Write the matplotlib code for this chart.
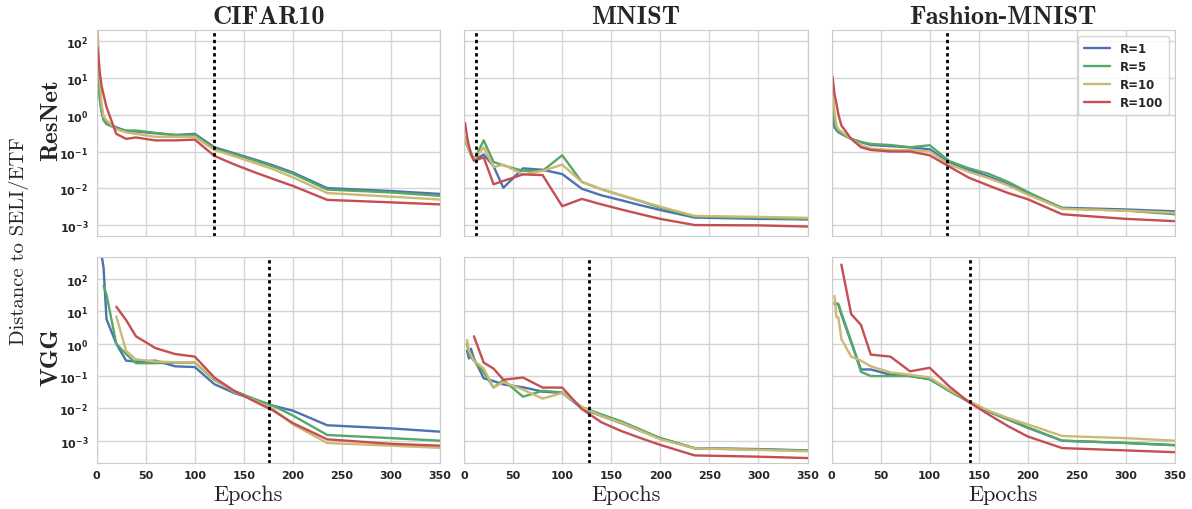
import os
import numpy as np
import matplotlib
matplotlib.use("Agg")
import matplotlib.pyplot as plt
import seaborn as sns
from matplotlib.font_manager import FontProperties
from matplotlib.ticker import FuncFormatter, LogLocator

nan = np.nan

# Epochs at which the distance was measured
epochs = [1, 3, 5, 7, 10, 20, 30, 40, 60, 80, 100, 120, 140, 160, 180, 200, 235, 300, 350]

datasets = ["CIFAR10", "MNIST", "Fashion-MNIST"]
models = ["ResNet", "VGG"]
ratios = ["R=1", "R=5", "R=10", "R=100"]

# ResNet / CIFAR10
cifar_resnet_r1 = [40, 3, 1.2, 0.8, 0.6, 0.45, 0.36, 0.35, 0.31, 0.28, 0.30, 0.13, 0.09, 0.062, 0.042, 0.027, 0.0102, 0.0085, 0.0071]
cifar_resnet_r5 = [50, 3, 1.2, 0.7, 0.55, 0.42, 0.37, 0.37, 0.32, 0.28, 0.28, 0.12, 0.085, 0.058, 0.039, 0.025, 0.0093, 0.0078, 0.0063]
cifar_resnet_r10 = [200, 10, 2.0, 0.9, 0.7, 0.4, 0.33, 0.30, 0.25, 0.25, 0.25, 0.11, 0.075, 0.05, 0.033, 0.02, 0.0075, 0.006, 0.005]
cifar_resnet_r100 = [66, 15, 6, 3.5, 1.6, 0.3, 0.22, 0.24, 0.20, 0.20, 0.21, 0.076, 0.045, 0.028, 0.018, 0.0117, 0.0049, 0.0042, 0.0037]

# ResNet / MNIST
mnist_resnet_r1 = [0.21, 0.15, 0.12, 0.09, 0.058, 0.083, 0.04, 0.0104, 0.035, 0.032, 0.0245, 0.0098, 0.0065, 0.0048, 0.0035, 0.0026, 0.00163, 0.0015, 0.00145]
mnist_resnet_r5 = [0.21, 0.15, 0.11, 0.08, 0.058, 0.2, 0.052, 0.042, 0.03, 0.03, 0.079, 0.015, 0.0095, 0.0065, 0.0045, 0.0030, 0.00175, 0.0016, 0.00147]
mnist_resnet_r10 = [0.25, 0.16, 0.12, 0.09, 0.058, 0.13, 0.038, 0.044, 0.024, 0.03, 0.044, 0.015, 0.0095, 0.0066, 0.0046, 0.0032, 0.0018, 0.0017, 0.0016]
mnist_resnet_r100 = [0.59, 0.25, 0.14, 0.09, 0.056, 0.069, 0.013, 0.016, 0.024, 0.023, 0.0033, 0.0052, 0.0037, 0.0027, 0.002, 0.0015, 0.00102, 0.001, 0.00093]

# ResNet / Fashion-MNIST
fashion_resnet_r1 = [1.5, 0.45, 0.38, 0.33, 0.3, 0.22, 0.18, 0.15, 0.14, 0.13, 0.115, 0.05, 0.032, 0.021, 0.013, 0.0075, 0.003, 0.0027, 0.0024]
fashion_resnet_r5 = [2.5, 0.6, 0.42, 0.35, 0.3, 0.22, 0.18, 0.16, 0.15, 0.13, 0.148, 0.055, 0.035, 0.025, 0.015, 0.008, 0.0029, 0.0025, 0.002]
fashion_resnet_r10 = [5.8, 1.2, 0.5, 0.4, 0.35, 0.22, 0.15, 0.12, 0.11, 0.11, 0.1, 0.045, 0.028, 0.019, 0.012, 0.0068, 0.0028, 0.0025, 0.0022]
fashion_resnet_r100 = [10.8, 3.6, 2.0, 1.0, 0.51, 0.22, 0.13, 0.11, 0.1, 0.1, 0.079, 0.039, 0.0195, 0.012, 0.0075, 0.0051, 0.002, 0.0015, 0.0013]

# VGG / CIFAR10
cifar_vgg_r1 = [2000, 1000, 550, 230, 5.8, 1.0, 0.3, 0.28, 0.3, 0.2, 0.19, 0.056, 0.03, 0.019, 0.012, 0.0085, 0.003, 0.0024, 0.0019]
cifar_vgg_r5 = [nan, nan, nan, 62, 33, 1.0, 0.48, 0.25, 0.25, 0.26, 0.26, 0.075, 0.035, 0.02, 0.012, 0.006, 0.0015, 0.0012, 0.001]
cifar_vgg_r10 = [nan, nan, nan, nan, nan, 7, 0.6, 0.33, 0.28, 0.27, 0.27, 0.08, 0.033, 0.018, 0.0095, 0.0032, 0.00085, 0.0007, 0.0006]
cifar_vgg_r100 = [nan, nan, nan, nan, nan, 14, 5.4, 1.7, 0.73, 0.48, 0.4, 0.09, 0.035, 0.017, 0.0085, 0.0035, 0.0011, 0.0008, 0.0007]

# VGG / MNIST
mnist_vgg_r1 = [nan, 0.6, 0.35, 0.7, 0.35, 0.085, 0.07, 0.055, 0.045, 0.033, 0.03, 0.01, 0.0058, 0.0035, 0.002, 0.0012, 0.00059, 0.00055, 0.0005]
mnist_vgg_r5 = [nan, 1.0, 0.45, 0.38, 0.3, 0.13, 0.044, 0.075, 0.023, 0.035, 0.031, 0.011, 0.0065, 0.004, 0.0022, 0.0012, 0.00058, 0.00053, 0.00049]
mnist_vgg_r10 = [nan, 1.3, 0.6, 0.45, 0.3, 0.17, 0.044, 0.065, 0.038, 0.02, 0.03, 0.011, 0.0058, 0.0036, 0.002, 0.0011, 0.00058, 0.00052, 0.00047]
mnist_vgg_r100 = [nan, nan, nan, nan, 1.7, 0.26, 0.17, 0.077, 0.09, 0.044, 0.044, 0.0095, 0.0037, 0.002, 0.0012, 0.00074, 0.00035, 0.00032, 0.00029]

# VGG / Fashion-MNIST
fashion_vgg_r1 = [nan, 17, 17, 16, 8, 1.1, 0.16, 0.16, 0.11, 0.1, 0.08, 0.035, 0.016, 0.008, 0.0045, 0.0025, 0.001, 0.00085, 0.00073]
fashion_vgg_r5 = [nan, 18, 18, 17, 9, 1.2, 0.135, 0.1, 0.1, 0.1, 0.08, 0.034, 0.016, 0.008, 0.0045, 0.0026, 0.001, 0.00085, 0.00072]
fashion_vgg_r10 = [nan, 30, 6.5, 6.5, 1.4, 0.4, 0.3, 0.2, 0.13, 0.11, 0.09, 0.038, 0.017, 0.0085, 0.005, 0.0032, 0.0014, 0.0012, 0.001]
fashion_vgg_r100 = [nan, nan, nan, nan, 280, 8.3, 3.8, 0.46, 0.4, 0.14, 0.18, 0.048, 0.0155, 0.0065, 0.0028, 0.00135, 0.00059, 0.0005, 0.00044]

# epoch at which the collapse threshold is reached (dotted marker)
thresholds_resnet = [120, 12, 118]
thresholds_vgg = [176, 127, 141]

curves = [
    [[cifar_resnet_r1, cifar_resnet_r5, cifar_resnet_r10, cifar_resnet_r100],
     [mnist_resnet_r1, mnist_resnet_r5, mnist_resnet_r10, mnist_resnet_r100],
     [fashion_resnet_r1, fashion_resnet_r5, fashion_resnet_r10, fashion_resnet_r100]],
    [[cifar_vgg_r1, cifar_vgg_r5, cifar_vgg_r10, cifar_vgg_r100],
     [mnist_vgg_r1, mnist_vgg_r5, mnist_vgg_r10, mnist_vgg_r100],
     [fashion_vgg_r1, fashion_vgg_r5, fashion_vgg_r10, fashion_vgg_r100]],
]
thresholds = [thresholds_resnet, thresholds_vgg]
ylims = [(5.0e-4, 195), (2.04e-4, 500)]

sns.set_style("whitegrid")
plt.rcParams["font.family"] = ["DejaVu Sans"]
plt.rcParams["mathtext.fontset"] = "dejavusans"
colors = ["#4C72B0", "#55A868", "#CCB974", "#C44E52"]

# Computer Modern faces shipped with matplotlib, for titles and labels
ttf_dir = os.path.join(matplotlib.get_data_path(), "fonts", "ttf")
cm_bold = os.path.join(ttf_dir, "cmb10.ttf")
cm_roman = os.path.join(ttf_dir, "cmr10.ttf")

fig, axes = plt.subplots(2, 3, figsize=(11.92, 5.1), dpi=100, sharex=True, sharey="row")
fig.subplots_adjust(left=0.0811, right=0.9857, top=0.9392, bottom=0.0902,
                    wspace=0.07, hspace=0.097)

exp_fmt = FuncFormatter(lambda v, p: r"$\mathbf{10^{%d}}$" % int(round(np.log10(v))))

xlabel_x = [0.44, 0.47, 0.5]
ylabel_y = [0.57, 0.52]

for i in range(2):
    for j in range(3):
        ax = axes[i, j]
        for k in range(4):
            ax.plot(epochs, curves[i][j][k], color=colors[k], lw=1.7, label=ratios[k])
        ax.axvline(thresholds[i][j], color="black", ls=(0, (1.2, 1.2)), lw=2)
        ax.set_yscale("log")
        ax.set_ylim(*ylims[i])
        ax.set_xlim(0, 350)
        ax.set_xticks(range(0, 351, 50))
        ax.yaxis.set_major_locator(LogLocator(base=10, numticks=10))
        ax.yaxis.set_minor_locator(plt.NullLocator())
        ax.yaxis.set_major_formatter(exp_fmt)
        ax.grid(True, color="#d5d5d5", lw=1.0)
        for s in ax.spines.values():
            s.set_color("#cccccc")
        ax.tick_params(axis="both", length=0, labelsize=8, colors="#262626")
        ax.tick_params(axis="x", pad=5)
        ax.tick_params(axis="y", pad=6)
        for lab in ax.get_xticklabels():
            lab.set_fontweight("bold")
        if i == 0:
            ax.set_title(datasets[j], fontproperties=FontProperties(fname=cm_bold, size=19), pad=5)
        else:
            ax.set_xlabel("Epochs", fontproperties=FontProperties(fname=cm_roman, size=16))
            ax.xaxis.set_label_coords(xlabel_x[j], -0.105)
    axes[i, 0].set_ylabel(models[i], fontproperties=FontProperties(fname=cm_bold, size=18))
    axes[i, 0].yaxis.set_label_coords(-0.1, ylabel_y[i])

leg = axes[0, 2].legend(loc="upper right", frameon=True,
                        prop={"weight": "bold", "size": 8.5}, borderpad=0.5,
                        handlelength=2.2, labelspacing=0.42)
leg.get_frame().set_edgecolor("#cccccc")
leg.get_frame().set_facecolor("white")

fig.text(0.016, 0.527, "Distance to SELI/ETF", rotation=90, va="center", ha="center",
         fontproperties=FontProperties(fname=cm_roman, size=14.8))

fig.savefig("out.png", dpi=100)
